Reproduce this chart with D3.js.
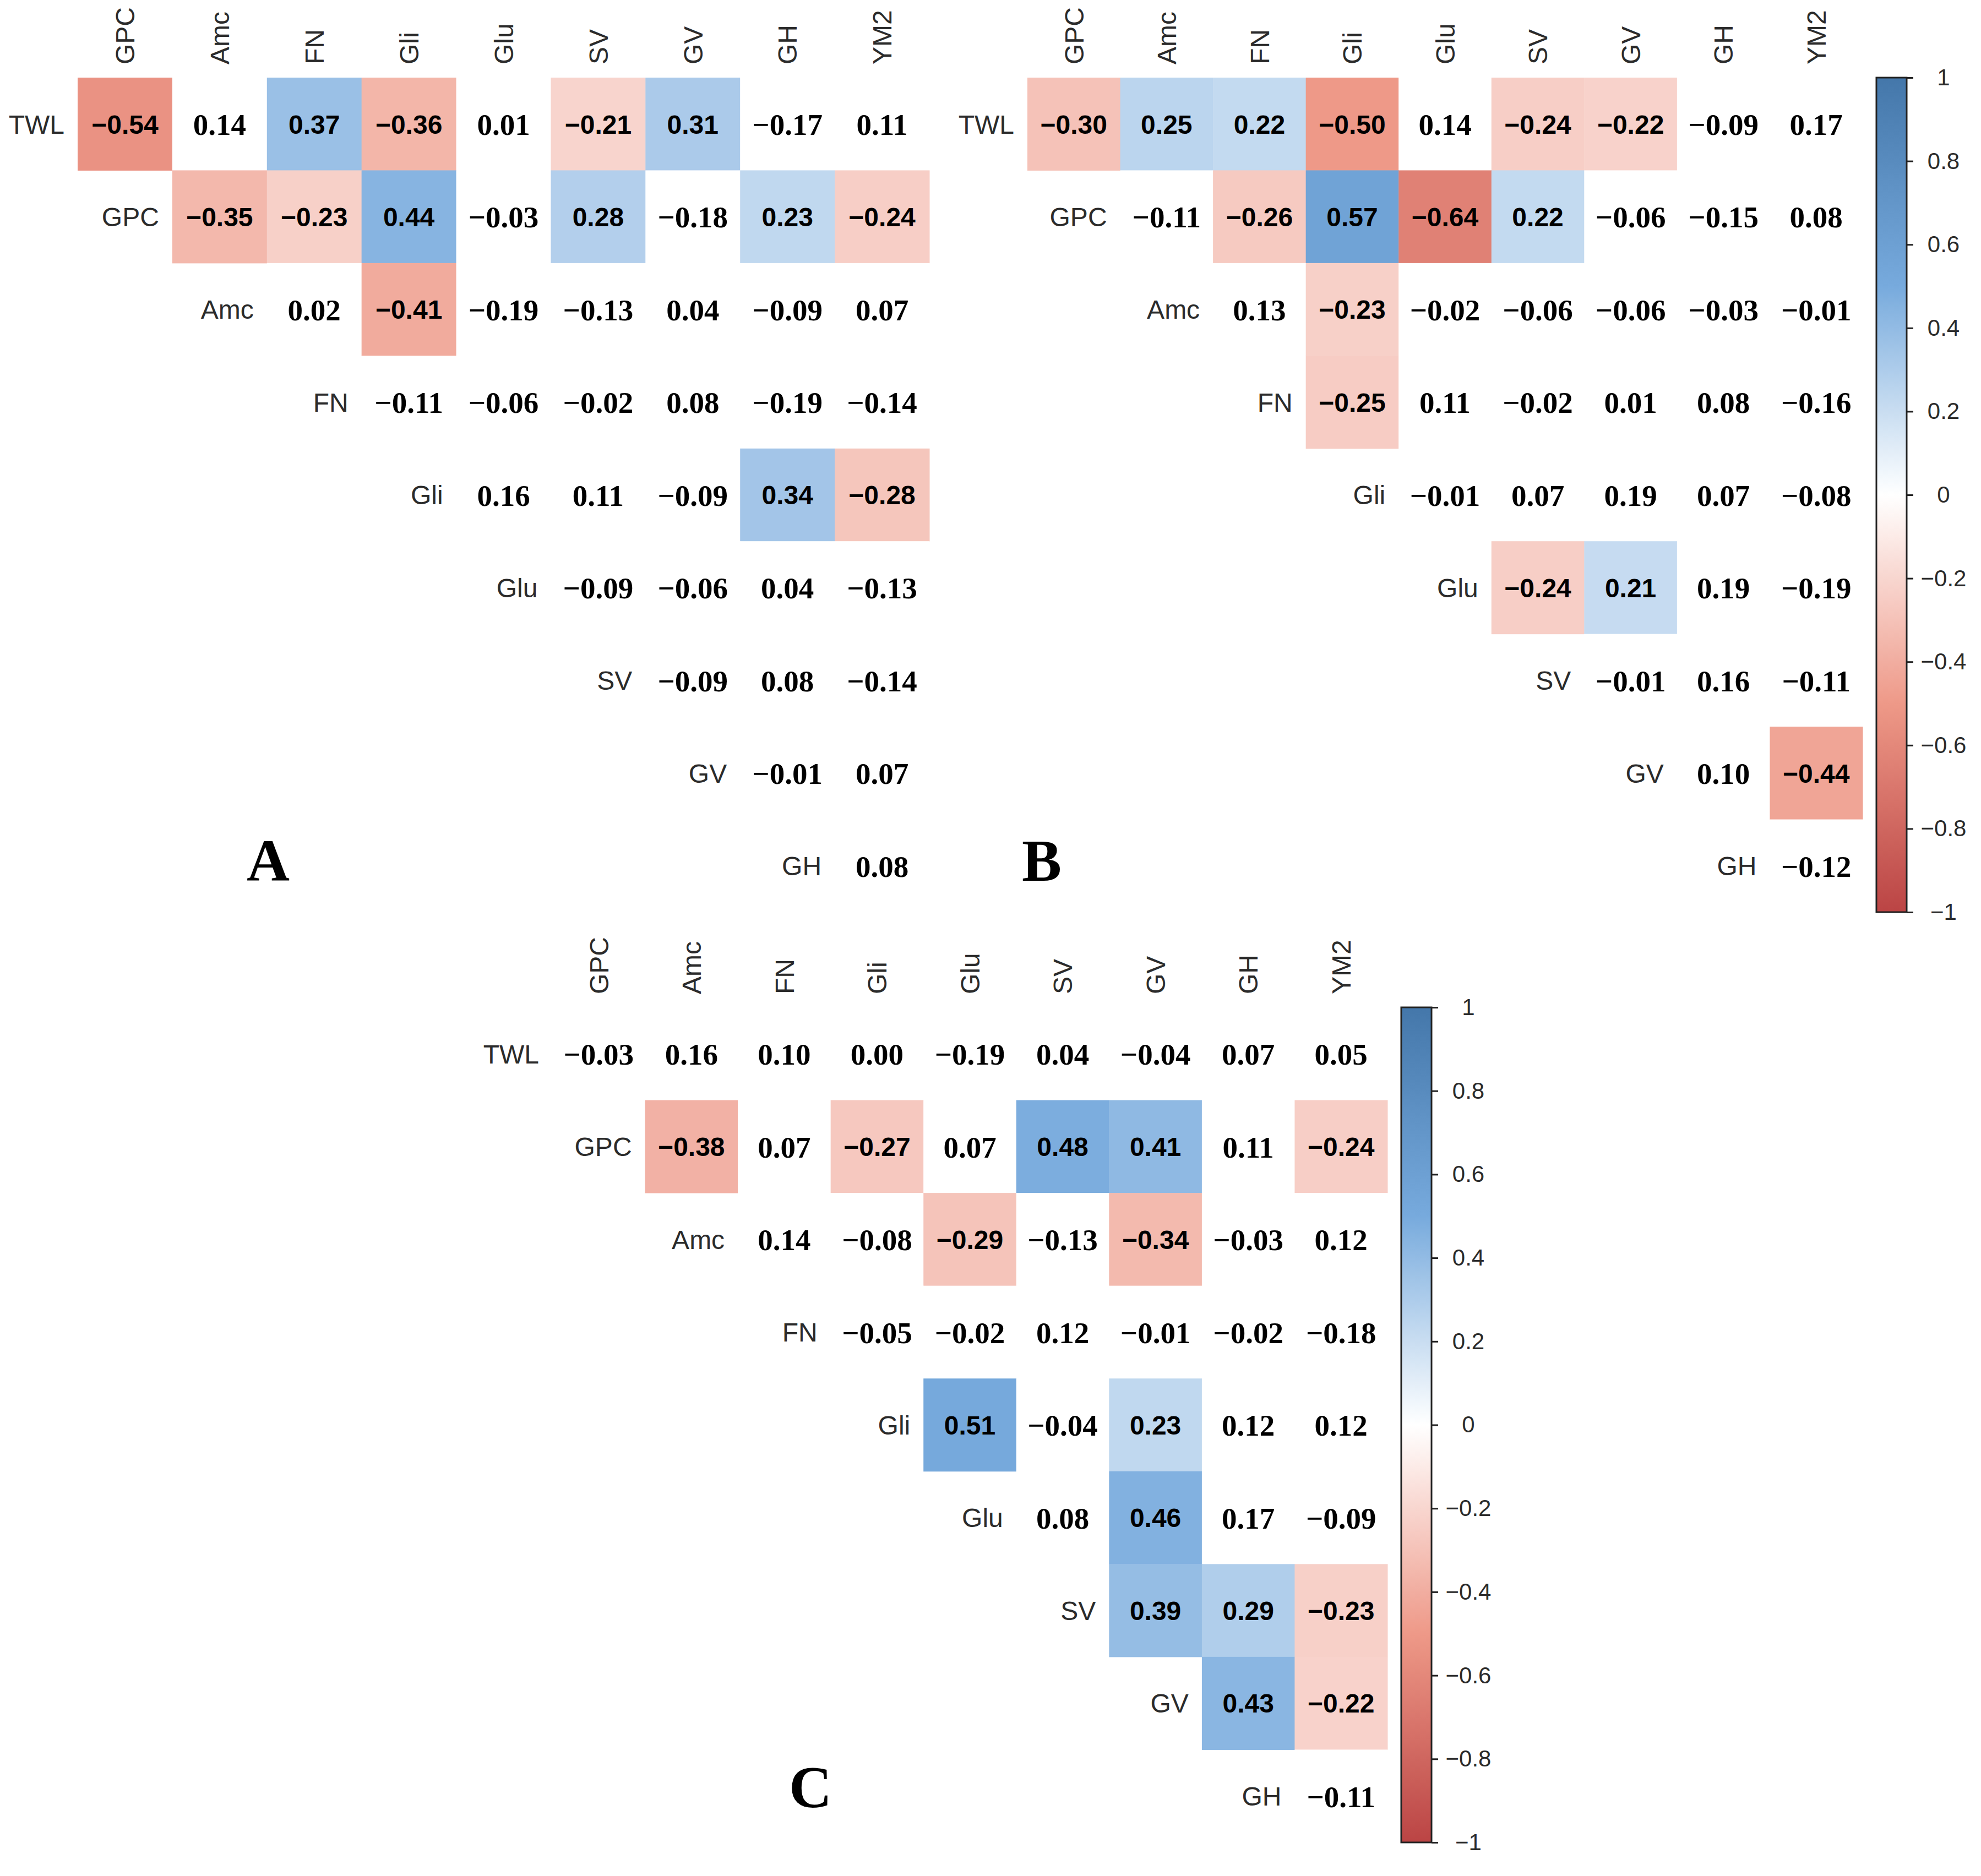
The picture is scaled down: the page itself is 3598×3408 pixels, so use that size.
<!DOCTYPE html>
<html>
<head>
<meta charset="utf-8">
<script src="https://cdn.jsdelivr.net/npm/d3@7"></script>
<style>
  body { margin: 0; background: #fff; }
</style>
</head>
<body>
<div id="plothere"></div>
<script>
// variables on the two axes of every panel
var columns = ["GPC", "Amc", "FN", "Gli", "Glu", "SV", "GV", "GH", "YM2"];
var rows = ["TWL", "GPC", "Amc", "FN", "Gli", "Glu", "SV", "GV", "GH"];

// upper triangle, row i starts at column i
var corrA = [
  [-0.54, 0.14, 0.37, -0.36, 0.01, -0.21, 0.31, -0.17, 0.11],
  [-0.35, -0.23, 0.44, -0.03, 0.28, -0.18, 0.23, -0.24],
  [0.02, -0.41, -0.19, -0.13, 0.04, -0.09, 0.07],
  [-0.11, -0.06, -0.02, 0.08, -0.19, -0.14],
  [0.16, 0.11, -0.09, 0.34, -0.28],
  [-0.09, -0.06, 0.04, -0.13],
  [-0.09, 0.08, -0.14],
  [-0.01, 0.07],
  [0.08]
];
var corrB = [
  [-0.30, 0.25, 0.22, -0.50, 0.14, -0.24, -0.22, -0.09, 0.17],
  [-0.11, -0.26, 0.57, -0.64, 0.22, -0.06, -0.15, 0.08],
  [0.13, -0.23, -0.02, -0.06, -0.06, -0.03, -0.01],
  [-0.25, 0.11, -0.02, 0.01, 0.08, -0.16],
  [-0.01, 0.07, 0.19, 0.07, -0.08],
  [-0.24, 0.21, 0.19, -0.19],
  [-0.01, 0.16, -0.11],
  [0.10, -0.44],
  [-0.12]
];
var corrC = [
  [-0.03, 0.16, 0.10, 0.00, -0.19, 0.04, -0.04, 0.07, 0.05],
  [-0.38, 0.07, -0.27, 0.07, 0.48, 0.41, 0.11, -0.24],
  [0.14, -0.08, -0.29, -0.13, -0.34, -0.03, 0.12],
  [-0.05, -0.02, 0.12, -0.01, -0.02, -0.18],
  [0.51, -0.04, 0.23, 0.12, 0.12],
  [0.08, 0.46, 0.17, -0.09],
  [0.39, 0.29, -0.23],
  [0.43, -0.22],
  [-0.11]
];
var legendTicks = [1, 0.8, 0.6, 0.4, 0.2, 0, -0.2, -0.4, -0.6, -0.8, -1];
var panelLetters = ["A", "B", "C"];
var sigLevel = 0.2; // cells under this |r| are left blank

var palette = ["#BB4444", "#EE9988", "#FFFFFF", "#77AADD", "#4477AA"];
var color = d3.scaleLinear()
  .domain([-1, -0.5, 0, 0.5, 1])
  .range(palette)
  .interpolate(d3.interpolateRgb);

var svg = d3.select("#plothere")
  .append("svg")
  .attr("width", 3598)
  .attr("height", 3408);

var defs = svg.append("defs");
var grad = defs.append("linearGradient")
  .attr("id", "cbar")
  .attr("x1", 0).attr("y1", 1).attr("x2", 0).attr("y2", 0);
d3.range(0, 41).forEach(function(k) {
  var v = -1 + k / 20;
  grad.append("stop").attr("offset", (k / 40 * 100) + "%").attr("stop-color", color(v));
});

function Panel(data, letter, box) {
  var x = d3.scaleBand().domain(columns).range([box.x0, box.x1]);
  var y = d3.scaleBand().domain(rows).range([box.y0, box.y1]);
  var g = svg.append("g");

  var cells = [];
  data.forEach(function(vals, i) {
    vals.forEach(function(v, k) {
      cells.push({row: rows[i], col: columns[i + k], value: v, sig: Math.abs(v) >= sigLevel});
    });
  });

  g.selectAll("rect.cell")
    .data(cells)
    .enter()
    .append("rect")
    .attr("class", "cell")
    .attr("x", function(d) { return x(d.col); })
    .attr("y", function(d) { return y(d.row); })
    .attr("width", x.bandwidth() + 0.5)
    .attr("height", y.bandwidth() + 0.5)
    .style("fill", function(d) { return d.sig ? color(d.value) : "#fff"; });

  g.selectAll("text.num")
    .data(cells)
    .enter()
    .append("text")
    .attr("class", "num")
    .attr("x", function(d) { return x(d.col) + x.bandwidth() / 2; })
    .attr("y", function(d) { return y(d.row) + y.bandwidth() / 2; })
    .attr("dy", "0.36em")
    .attr("text-anchor", "middle")
    .style("font-family", function(d) { return d.sig ? "'Liberation Sans', Arial, sans-serif" : "'Liberation Serif', 'Times New Roman', serif"; })
    .style("font-size", function(d) { return d.sig ? "48px" : "55px"; })
    .style("font-weight", "bold")
    .style("fill", "#000")
    .text(function(d) { return d3.format(".2f")(d.value); });

  // column names on top
  g.selectAll("text.colname")
    .data(columns)
    .enter()
    .append("text")
    .attr("class", "colname")
    .attr("transform", function(d) { return "translate(" + (x(d) + x.bandwidth() / 2) + "," + (box.y0 - 24) + ") rotate(-90)"; })
    .attr("dy", "0.36em")
    .attr("text-anchor", "start")
    .style("font-family", "'Liberation Sans', Arial, sans-serif")
    .style("font-size", "48px")
    .style("fill", "#2b2b2b")
    .text(function(d) { return d; });

  // row names sit left of the first cell in each row
  g.selectAll("text.rowname")
    .data(rows)
    .enter()
    .append("text")
    .attr("class", "rowname")
    .attr("x", function(d, i) { return x(columns[i]) - 24; })
    .attr("y", function(d) { return y(d) + y.bandwidth() / 2; })
    .attr("dy", "0.36em")
    .attr("text-anchor", "end")
    .style("font-family", "'Liberation Sans', Arial, sans-serif")
    .style("font-size", "48px")
    .style("fill", "#2b2b2b")
    .text(function(d) { return d; });

  if (box.legend) {
    var lx = box.x1 + 25, lw = 55;
    var ly = d3.scaleLinear().domain([-1, 1]).range([box.y1, box.y0]);
    g.append("rect")
      .attr("x", lx)
      .attr("y", box.y0)
      .attr("width", lw)
      .attr("height", box.y1 - box.y0)
      .style("fill", "url(#cbar)")
      .style("stroke", "#222")
      .style("stroke-width", 3);
    var ax = g.append("g")
      .attr("transform", "translate(" + (lx + lw) + ",0)")
      .call(d3.axisRight(ly).tickValues(legendTicks).tickSize(12).tickFormat(d3.format("~g")));
    ax.select(".domain").remove();
    ax.selectAll(".tick line").style("stroke", "#222").style("stroke-width", 3);
    ax.selectAll(".tick text")
      .attr("x", 67)
      .attr("text-anchor", "middle")
      .style("font-family", "'Liberation Sans', Arial, sans-serif")
      .style("font-size", "42px")
      .style("fill", "#2b2b2b");
  }

  svg.append("text")
    .attr("x", box.lx)
    .attr("y", box.ly)
    .attr("text-anchor", "middle")
    .style("font-family", "'Liberation Serif', 'Times New Roman', serif")
    .style("font-weight", "bold")
    .style("font-size", "108px")
    .style("fill", "#000")
    .text(letter);
}

Panel(corrA, panelLetters[0], {x0: 141, x1: 1688, y0: 141, y1: 1657, legend: false, lx: 487, ly: 1600});
Panel(corrB, panelLetters[1], {x0: 1866, x1: 3383, y0: 141, y1: 1657, legend: true, lx: 1892, ly: 1600});
Panel(corrC, panelLetters[2], {x0: 1003, x1: 2520, y0: 1830, y1: 3347, legend: true, lx: 1472, ly: 3283});
</script>
</body>
</html>
